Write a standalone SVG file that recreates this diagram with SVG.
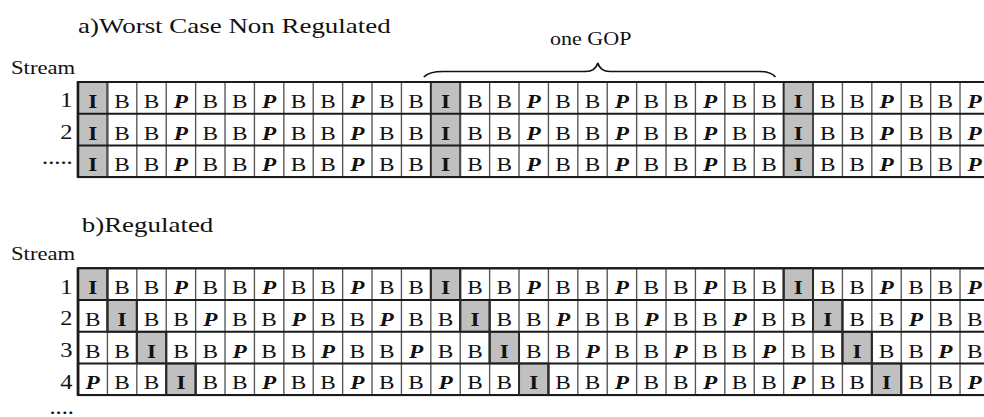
<svg xmlns="http://www.w3.org/2000/svg" width="984" height="417" viewBox="0 0 984 417">
<style>
text{font-family:"Liberation Serif","Times New Roman",serif;fill:#111}
.t{font-size:22px}
.s{font-size:18.5px}
.g{font-size:18px}
.lb{font-size:20px;text-anchor:end}
.c{font-size:19px;text-anchor:middle}
.b{font-weight:bold}
.p{font-weight:bold;font-style:italic}
.vl{stroke:#555;stroke-width:1.1;fill:none}
.hl{stroke:#1a1a1a;stroke-width:2;fill:none}
.bx{fill:#fff;stroke:#1a1a1a;stroke-width:2}
.ic{fill:#c0c0c0;stroke:#2a2a2a;stroke-width:1.6}
</style>
<rect width="984" height="417" fill="#fff"/>
<g transform="scale(1.225,1)">
<g id="titles">
<text class="t" x="63.7" y="33">a)Worst Case Non Regulated</text>
<text class="g" x="449" y="45">one GOP</text>
<text class="s" x="9" y="74">Stream</text>
<text class="t" x="66.7" y="232">b)Regulated</text>
<text class="s" x="9" y="260.5">Stream</text>
</g>
<g id="brace">
<path d="M346 77 Q350 71.5 362 71.5 H478 Q486 71.5 488 63 Q490 71.5 498 71.5 H620 Q629 71.5 633 77" fill="none" stroke="#111" stroke-width="1.4"/>
</g>
<g id="gridA">
<rect class="bx" x="63.7" y="82" width="744" height="95.1"/>
<rect class="ic" x="63.7" y="82" width="24" height="95.1"/>
<rect class="ic" x="351.7" y="82" width="24" height="95.1"/>
<rect class="ic" x="639.7" y="82" width="24" height="95.1"/>
<path class="vl" d="M87.7 82V177M111.7 82V177M135.7 82V177M159.7 82V177M183.7 82V177M207.7 82V177M231.7 82V177M255.7 82V177M279.7 82V177M303.7 82V177M327.7 82V177M375.7 82V177M399.7 82V177M423.7 82V177M447.7 82V177M471.7 82V177M495.7 82V177M519.7 82V177M543.7 82V177M567.7 82V177M591.7 82V177M615.7 82V177M663.7 82V177M687.7 82V177M711.7 82V177M735.7 82V177M759.7 82V177M783.7 82V177"/>
<path class="hl" d="M63.7 113.7H807.7M63.7 145.4H807.7"/>
<path d="M63.7 82H807.7M63.7 177.1H807.7M63.7 82V177.1" fill="none" stroke="#1a1a1a" stroke-width="2"/>
</g>
<g id="rowA1">
<text class="lb" x="59.2" y="107">1</text>
<text class="c b" x="75.7 363.7 651.7" y="108">III</text>
<text class="c p" x="147.7 219.7 291.7 435.7 507.7 579.7 723.7 795.7" y="108">PPPPPPPP</text>
<text class="c" x="99.7 123.7 171.7 195.7 243.7 267.7 315.7 339.7 387.7 411.7 459.7 483.7 531.7 555.7 603.7 627.7 675.7 699.7 747.7 771.7" y="108">BBBBBBBBBBBBBBBBBBBB</text>
</g>
<g id="rowA2">
<text class="lb" x="59.2" y="138.7">2</text>
<text class="c b" x="75.7 363.7 651.7" y="139.7">III</text>
<text class="c p" x="147.7 219.7 291.7 435.7 507.7 579.7 723.7 795.7" y="139.7">PPPPPPPP</text>
<text class="c" x="99.7 123.7 171.7 195.7 243.7 267.7 315.7 339.7 387.7 411.7 459.7 483.7 531.7 555.7 603.7 627.7 675.7 699.7 747.7 771.7" y="139.7">BBBBBBBBBBBBBBBBBBBB</text>
</g>
<g id="rowA3">
<text class="lb" x="59.3" y="164">.....</text>
<text class="c b" x="75.7 363.7 651.7" y="171.4">III</text>
<text class="c p" x="147.7 219.7 291.7 435.7 507.7 579.7 723.7 795.7" y="171.4">PPPPPPPP</text>
<text class="c" x="99.7 123.7 171.7 195.7 243.7 267.7 315.7 339.7 387.7 411.7 459.7 483.7 531.7 555.7 603.7 627.7 675.7 699.7 747.7 771.7" y="171.4">BBBBBBBBBBBBBBBBBBBB</text>
</g>
<g id="gridB">
<rect class="bx" x="63.7" y="268.3" width="744" height="126.8"/>
<rect class="ic" x="63.7" y="268.3" width="24" height="31.7"/>
<rect class="ic" x="351.7" y="268.3" width="24" height="31.7"/>
<rect class="ic" x="639.7" y="268.3" width="24" height="31.7"/>
<rect class="ic" x="87.7" y="300" width="24" height="31.7"/>
<rect class="ic" x="375.7" y="300" width="24" height="31.7"/>
<rect class="ic" x="663.7" y="300" width="24" height="31.7"/>
<rect class="ic" x="111.7" y="331.7" width="24" height="31.7"/>
<rect class="ic" x="399.7" y="331.7" width="24" height="31.7"/>
<rect class="ic" x="687.7" y="331.7" width="24" height="31.7"/>
<rect class="ic" x="135.7" y="363.4" width="24" height="31.7"/>
<rect class="ic" x="423.7" y="363.4" width="24" height="31.7"/>
<rect class="ic" x="711.7" y="363.4" width="24" height="31.7"/>
<path class="vl" d="M87.7 268.3V395.1M111.7 268.3V395.1M135.7 268.3V395.1M159.7 268.3V395.1M183.7 268.3V395.1M207.7 268.3V395.1M231.7 268.3V395.1M255.7 268.3V395.1M279.7 268.3V395.1M303.7 268.3V395.1M327.7 268.3V395.1M351.7 268.3V395.1M375.7 268.3V395.1M399.7 268.3V395.1M423.7 268.3V395.1M447.7 268.3V395.1M471.7 268.3V395.1M495.7 268.3V395.1M519.7 268.3V395.1M543.7 268.3V395.1M567.7 268.3V395.1M591.7 268.3V395.1M615.7 268.3V395.1M639.7 268.3V395.1M663.7 268.3V395.1M687.7 268.3V395.1M711.7 268.3V395.1M735.7 268.3V395.1M759.7 268.3V395.1M783.7 268.3V395.1"/>
<path class="hl" d="M63.7 300H807.7M63.7 331.7H807.7M63.7 363.4H807.7"/>
<path d="M63.7 268.3H807.7M63.7 395.1H807.7M63.7 268.3V395.1" fill="none" stroke="#1a1a1a" stroke-width="2"/>
<path d="M87.7 268.3V300M351.7 268.3V300M375.7 268.3V300M639.7 268.3V300M663.7 268.3V300M87.7 300V331.7M111.7 300V331.7M375.7 300V331.7M399.7 300V331.7M663.7 300V331.7M687.7 300V331.7M111.7 331.7V363.4M135.7 331.7V363.4M399.7 331.7V363.4M423.7 331.7V363.4M687.7 331.7V363.4M711.7 331.7V363.4M135.7 363.4V395.1M159.7 363.4V395.1M423.7 363.4V395.1M447.7 363.4V395.1M711.7 363.4V395.1M735.7 363.4V395.1" fill="none" stroke="#2a2a2a" stroke-width="1.6"/>
</g>
<g id="rowB1">
<text class="lb" x="59.2" y="293.8">1</text>
<text class="c b" x="75.7 363.7 651.7" y="294.3">III</text>
<text class="c p" x="147.7 219.7 291.7 435.7 507.7 579.7 723.7 795.7" y="294.3">PPPPPPPP</text>
<text class="c" x="99.7 123.7 171.7 195.7 243.7 267.7 315.7 339.7 387.7 411.7 459.7 483.7 531.7 555.7 603.7 627.7 675.7 699.7 747.7 771.7" y="294.3">BBBBBBBBBBBBBBBBBBBB</text>
</g>
<g id="rowB2">
<text class="lb" x="59.2" y="325.5">2</text>
<text class="c b" x="99.7 387.7 675.7" y="326">III</text>
<text class="c p" x="171.7 243.7 315.7 459.7 531.7 603.7 747.7" y="326">PPPPPPP</text>
<text class="c" x="75.7 123.7 147.7 195.7 219.7 267.7 291.7 339.7 363.7 411.7 435.7 483.7 507.7 555.7 579.7 627.7 651.7 699.7 723.7 771.7 795.7" y="326">BBBBBBBBBBBBBBBBBBBBB</text>
</g>
<g id="rowB3">
<text class="lb" x="59.2" y="357.2">3</text>
<text class="c b" x="123.7 411.7 699.7" y="357.7">III</text>
<text class="c p" x="195.7 267.7 339.7 483.7 555.7 627.7 771.7" y="357.7">PPPPPPP</text>
<text class="c" x="75.7 99.7 147.7 171.7 219.7 243.7 291.7 315.7 363.7 387.7 435.7 459.7 507.7 531.7 579.7 603.7 651.7 675.7 723.7 747.7 795.7" y="357.7">BBBBBBBBBBBBBBBBBBBBB</text>
</g>
<g id="rowB4">
<text class="lb" x="59.2" y="388.9">4</text>
<text class="c b" x="147.7 435.7 723.7" y="389.4">III</text>
<text class="c p" x="75.7 219.7 291.7 363.7 507.7 579.7 651.7 795.7" y="389.4">PPPPPPPP</text>
<text class="c" x="99.7 123.7 171.7 195.7 243.7 267.7 315.7 339.7 387.7 411.7 459.7 483.7 531.7 555.7 603.7 627.7 675.7 699.7 747.7 771.7" y="389.4">BBBBBBBBBBBBBBBBBBBB</text>
</g>
<text class="lb" x="60.4" y="414">....</text>
</g>
</svg>
